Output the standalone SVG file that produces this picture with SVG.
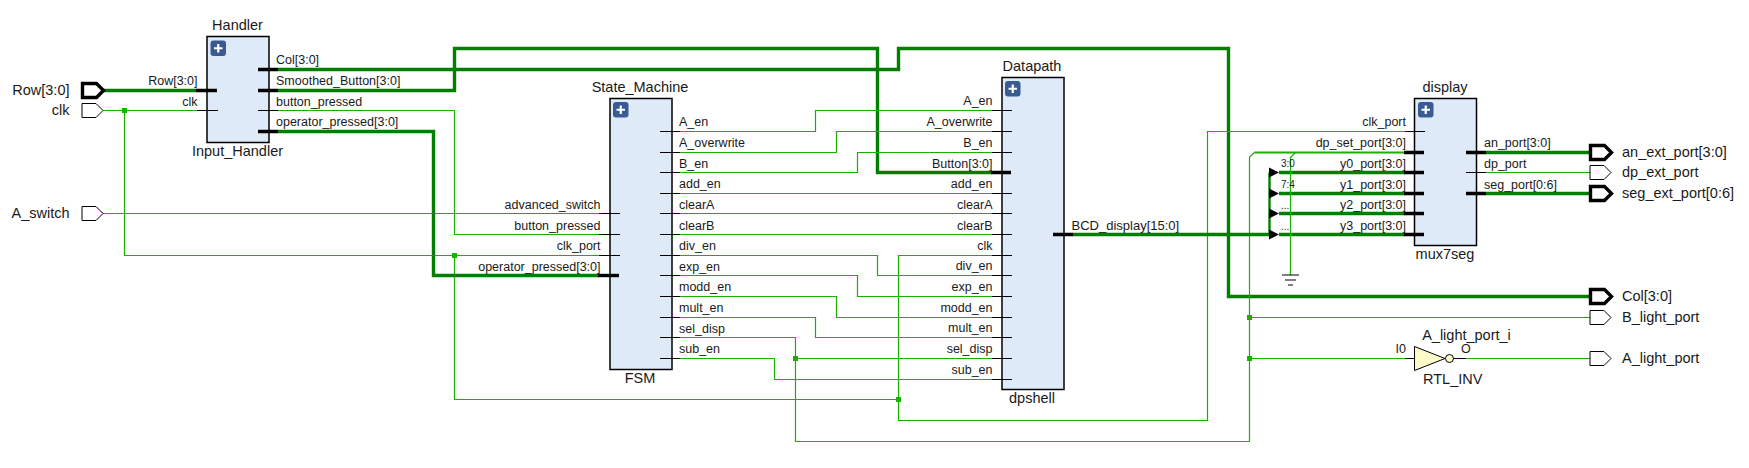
<svg xmlns="http://www.w3.org/2000/svg" width="1749" height="468" viewBox="0 0 1749 468">
<style>
text{font-family:"Liberation Sans",Arial,sans-serif;fill:#1a1a1a}
.p{font-size:12.5px}
.n{font-size:14.5px}
.e{text-anchor:end}
.m{text-anchor:middle}
.t{font-size:10px}
.box{fill:#deeaf8;stroke:#000;stroke-width:1.5}
.w{fill:none;stroke:#19b000;stroke-width:1.2}
.b{fill:none;stroke:#007f00;stroke-width:3.4}
.s{stroke:#000;stroke-width:1.2;fill:none}
.sb{stroke:#000;stroke-width:3.4;fill:none}
.port{fill:#fff;stroke:#000;stroke-width:1}
.bport{fill:#fff;stroke:#000;stroke-width:3.4}
.j{fill:#19b000}
.ic{fill:#3a5a92}
.pl{stroke:#fff;stroke-width:2.2;fill:none}
</style>
<defs>
<g id="plus"><rect width="15.5" height="15.5" rx="3" class="ic"/><path d="M7.75 3.5V12M3.5 7.75H12" class="pl"/></g>
<path id="pin" d="M0 -7H14L21 0L14 7H0Z"/>
<path id="tap" d="M0 -5L10 0L0 5Z" fill="#000"/>
</defs>
<g id="connectors">
<path class="b" d="M103 90.5H196"/>
<path class="w" d="M103 110.5H198M124.5 110.5V255.5H599M103 213.5H599"/>
<path class="w" d="M278 110.5H454.5V234.5H599M454.5 255.5V399.5H898.5"/>
<path class="b" d="M278 69.5H898.5V48.5H1228.5V296.5H1590"/>
<path class="b" d="M278 90.5H454.5V48.5H877.5V172.5H992"/>
<path class="b" d="M278 131.5H433.5V275.5H599"/>
<path class="w" d="M680 131.5H815.5V110.5H992M680 152.5H836.5V131.5H992M680 172.5H857.5V152.5H992M680 193.5H992M680 213.5H992M680 234.5H992"/>
<path class="w" d="M680 255.5H877.5V275.5H992M680 275.5H857.5V296.5H992M680 296.5H836.5V317.5H992M680 317.5H815.5V337.5H992M680 358.5H774.5V379.5H992"/>
<path class="w" d="M680 337.5H795.5V441.5H1249.5V157L1254.5 152.5M795.5 358.5H992"/>
<path class="w" d="M992 255.5H898.5V420.5H1207.5V131.5H1405"/>
<path class="b" d="M1073 234.5H1270"/>
<path class="b" d="M1279 172.5H1405M1279 193.5H1405M1279 213.5H1405M1279 234.5H1405"/>
<path fill="none" stroke="#007f00" stroke-width="2.4" d="M1269.5 172.5V234.5"/>
<path fill="none" stroke="#19b000" stroke-width="2" d="M1254.5 152.5H1405"/>
<path class="w" d="M1295.5 152.5L1290.5 157.5V275"/>
<path class="w" d="M1249.5 317.5H1590M1249.5 358.5H1405M1466 358.5H1590"/>
<path class="b" d="M1486 152.5H1590M1486 193.5H1590"/>
<path class="w" d="M1486 172.5H1590"/>
<rect class="j" x="122" y="108" width="5" height="5"/>
<rect class="j" x="452" y="253" width="5" height="5"/>
<rect class="j" x="793" y="356" width="5" height="5"/>
<rect class="j" x="896" y="397" width="5" height="5"/>
<rect class="j" x="1247" y="315" width="5" height="5"/>
<rect class="j" x="1247" y="356" width="5" height="5"/>
<use href="#tap" x="1269" y="172.5"/>
<use href="#tap" x="1269" y="193.5"/>
<use href="#tap" x="1269" y="213.5"/>
<use href="#tap" x="1269" y="234.5"/>
<text class="t" x="1281" y="167">3:0</text>
<text class="t" x="1281" y="188">7:4</text>
<text class="t" x="1281" y="209">...</text>
<text class="t" x="1281" y="230">...</text>
<path class="s" d="M1282 275H1299M1285 280H1296M1288 285H1293"/>
</g>
<g id="Row"><use href="#pin" x="82.5" y="90.5" class="bport"/><text class="n e" x="69.5" y="95">Row[3:0]</text></g>
<g id="clk"><use href="#pin" x="82" y="110.5" class="port"/><text class="n e" x="69.5" y="115">clk</text></g>
<g id="A_switch"><use href="#pin" x="82" y="213.5" class="port"/><text class="n e" x="69.5" y="218">A_switch</text></g>
<g id="Input_Handler">
<rect class="box" x="207" y="36.5" width="62" height="106"/>
<use href="#plus" x="210.5" y="40.5"/>
<text class="n m" x="237.5" y="30">Handler</text>
<text class="n m" x="237.5" y="156">Input_Handler</text>
<path class="sb" d="M196 90.5H217M258 69.5H278M258 90.5H278M258 131.5H278"/>
<path class="s" d="M197 110.5H218M258 110.5H278"/>
<text class="p e" x="197.5" y="85">Row[3:0]</text>
<text class="p e" x="197.5" y="106">clk</text>
<text class="p" x="276" y="64">Col[3:0]</text>
<text class="p" x="276" y="85">Smoothed_Button[3:0]</text>
<text class="p" x="276" y="106">button_pressed</text>
<text class="p" x="276" y="126">operator_pressed[3:0]</text>
</g>
<g id="FSM">
<rect class="box" x="610" y="98.5" width="62" height="271"/>
<use href="#plus" x="613" y="102"/>
<text class="n m" x="640" y="92">State_Machine</text>
<text class="n m" x="640" y="383">FSM</text>
<path class="s" d="M599 213.5H620M599 234.5H620M599 255.5H620"/>
<path class="sb" d="M598 275.5H619"/>
<path class="s" d="M660 131.5H680M660 152.5H680M660 172.5H680M660 193.5H680M660 213.5H680M660 234.5H680M660 255.5H680M660 275.5H680M660 296.5H680M660 317.5H680M660 337.5H680M660 358.5H680"/>
<text class="p e" x="600.5" y="209">advanced_switch</text>
<text class="p e" x="600.5" y="230">button_pressed</text>
<text class="p e" x="600.5" y="250">clk_port</text>
<text class="p e" x="600.5" y="271">operator_pressed[3:0]</text>
<text class="p" x="679" y="126">A_en</text>
<text class="p" x="679" y="147">A_overwrite</text>
<text class="p" x="679" y="168">B_en</text>
<text class="p" x="679" y="188">add_en</text>
<text class="p" x="679" y="209">clearA</text>
<text class="p" x="679" y="230">clearB</text>
<text class="p" x="679" y="250">div_en</text>
<text class="p" x="679" y="271">exp_en</text>
<text class="p" x="679" y="291">modd_en</text>
<text class="p" x="679" y="312">mult_en</text>
<text class="p" x="679" y="333">sel_disp</text>
<text class="p" x="679" y="353">sub_en</text>
</g>
<g id="dpshell">
<rect class="box" x="1002" y="77.5" width="62" height="312"/>
<use href="#plus" x="1005" y="81"/>
<text class="n m" x="1032" y="71">Datapath</text>
<text class="n m" x="1032" y="403">dpshell</text>
<path class="s" d="M992 110.5H1012M992 131.5H1012M992 152.5H1012M992 193.5H1012M992 213.5H1012M992 234.5H1012M992 255.5H1012M992 275.5H1012M992 296.5H1012M992 317.5H1012M992 337.5H1012M992 358.5H1012M992 379.5H1012"/>
<path class="sb" d="M991 172.5H1011M1053 234.5H1073"/>
<text class="p e" x="992.5" y="105">A_en</text>
<text class="p e" x="992.5" y="126">A_overwrite</text>
<text class="p e" x="992.5" y="147">B_en</text>
<text class="p e" x="992.5" y="168">Button[3:0]</text>
<text class="p e" x="992.5" y="188">add_en</text>
<text class="p e" x="992.5" y="209">clearA</text>
<text class="p e" x="992.5" y="230">clearB</text>
<text class="p e" x="992.5" y="250">clk</text>
<text class="p e" x="992.5" y="270">div_en</text>
<text class="p e" x="992.5" y="291">exp_en</text>
<text class="p e" x="992.5" y="312">modd_en</text>
<text class="p e" x="992.5" y="332">mult_en</text>
<text class="p e" x="992.5" y="353">sel_disp</text>
<text class="p e" x="992.5" y="374">sub_en</text>
<text class="p" x="1071.5" y="230" style="font-size:13px">BCD_display[15:0]</text>
</g>
<g id="mux7seg">
<rect class="box" x="1414.5" y="98.5" width="62" height="147"/>
<use href="#plus" x="1418" y="102"/>
<text class="n m" x="1445" y="92">display</text>
<text class="n m" x="1445" y="259">mux7seg</text>
<path class="s" d="M1405 131.5H1425M1466 172.5H1486"/>
<path class="sb" d="M1404 152.5H1424M1404 172.5H1424M1404 193.5H1424M1404 213.5H1424M1404 234.5H1424M1466 152.5H1486M1466 193.5H1486"/>
<text class="p e" x="1406" y="126">clk_port</text>
<text class="p e" x="1406" y="147">dp_set_port[3:0]</text>
<text class="p e" x="1406" y="168">y0_port[3:0]</text>
<text class="p e" x="1406" y="189">y1_port[3:0]</text>
<text class="p e" x="1406" y="209">y2_port[3:0]</text>
<text class="p e" x="1406" y="230">y3_port[3:0]</text>
<text class="p" x="1484" y="147">an_port[3:0]</text>
<text class="p" x="1484" y="168">dp_port</text>
<text class="p" x="1484" y="189">seg_port[0:6]</text>
</g>
<g id="an_ext_port"><use href="#pin" x="1590.5" y="152.5" class="bport"/><text class="n" x="1622" y="157">an_ext_port[3:0]</text></g>
<g id="dp_ext_port"><use href="#pin" x="1590" y="172.5" class="port"/><text class="n" x="1622" y="177">dp_ext_port</text></g>
<g id="seg_ext_port"><use href="#pin" x="1590.5" y="193.5" class="bport"/><text class="n" x="1622" y="198">seg_ext_port[0:6]</text></g>
<g id="Col"><use href="#pin" x="1590.5" y="296.5" class="bport"/><text class="n" x="1622" y="301">Col[3:0]</text></g>
<g id="B_light_port"><use href="#pin" x="1590" y="317.5" class="port"/><text class="n" x="1622" y="322">B_light_port</text></g>
<g id="A_light_port"><use href="#pin" x="1590" y="358.5" class="port"/><text class="n" x="1622" y="363">A_light_port</text></g>
<g id="A_light_port_i">
<path d="M1405 358.5H1415M1453 358.5H1466" class="s"/>
<path d="M1414.5 346.5L1445 358.5L1414.5 370.5Z" fill="#fdfbc8" stroke="#000"/>
<circle cx="1449.5" cy="358.5" r="4" fill="#fdfbc8" stroke="#000"/>
<text class="n m" x="1466.5" y="340">A_light_port_i</text>
<text class="p e" x="1406" y="353">I0</text>
<text class="p" x="1461" y="353">O</text>
<text class="n" x="1423" y="384">RTL_INV</text>
</g>
</svg>
